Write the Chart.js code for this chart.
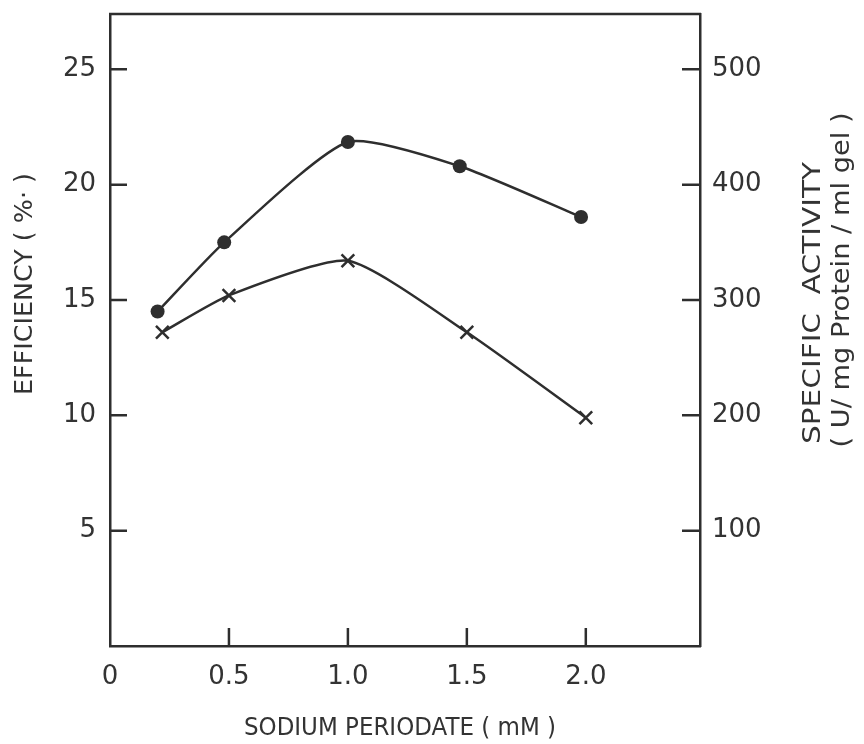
<!DOCTYPE html>
<html>
<head>
<meta charset="utf-8">
<script src="https://cdn.jsdelivr.net/npm/chart.js@4.4.0/dist/chart.umd.min.js"></script>
<style>
  html, body { margin: 0; padding: 0; background: #fff; }
  canvas { display: block; }
</style>
</head>
<body>
<canvas id="myChart" width="864" height="744"></canvas>
<script>
// sodium periodate (mM) for each series
var periodateDots = [0.2, 0.48, 1.0, 1.47, 1.98];
var periodateCrosses = [0.22, 0.5, 1.0, 1.5, 2.0];

// specific activity (U / mg protein / ml gel), filled circles, right axis
var specificActivity = [290, 350, 437, 416, 372];
// efficiency (%), crosses, left axis
var efficiency = [13.6, 15.2, 16.7, 13.6, 9.9];

var xTicks = [0, 0.5, 1.0, 1.5, 2.0];
var xTickLabels = ["0", "0.5", "1.0", "1.5", "2.0"];
var effTicks = [5, 10, 15, 20, 25];
var actTicks = [100, 200, 300, 400, 500];

var ink = "#2e2e2e";
var textInk = "#333";
var fontFamily = "'DejaVu Sans', sans-serif";

function toPoints(xs, ys) {
  return xs.map(function (x, i) { return { x: x, y: ys[i] }; });
}

function setTicks(values) {
  return function (scale) {
    scale.ticks = values.map(function (v) { return { value: v }; });
  };
}

// fixed axis box sizes, no extra room for half labels
function fixSize(w, h) {
  return function (s) {
    if (w) s.width = w;
    if (h) s.height = h;
    s.paddingTop = 0;
    s.paddingBottom = 0;
    s.paddingLeft = 0;
    s.paddingRight = 0;
  };
}

// text squeezed to a given length, optionally turned to read bottom-up
function drawTitle(ctx, text, cx, cy, len, upright) {
  ctx.save();
  ctx.translate(cx, cy);
  if (!upright) ctx.rotate(-Math.PI / 2);
  var w = ctx.measureText(text).width;
  ctx.scale(len / w, 1);
  ctx.fillText(text, 0, 0);
  ctx.restore();
}

// box top, inward tick marks and axis titles
var frame = {
  id: "frame",
  afterDatasetsDraw: function (chart) {
    var ctx = chart.ctx;
    var a = chart.chartArea;
    var sx = chart.scales.x;
    var sl = chart.scales.yEff;
    var sr = chart.scales.yAct;
    ctx.save();
    ctx.strokeStyle = ink;
    ctx.lineWidth = 2.5;
    ctx.beginPath();
    ctx.moveTo(a.left - 1, a.top);
    ctx.lineTo(a.right + 1, a.top);
    xTicks.forEach(function (v) {
      if (v === 0) return;
      var px = sx.getPixelForValue(v);
      ctx.moveTo(px, a.bottom);
      ctx.lineTo(px, a.bottom - 18);
    });
    effTicks.forEach(function (v) {
      var py = sl.getPixelForValue(v);
      ctx.moveTo(a.left, py);
      ctx.lineTo(a.left + 17, py);
    });
    actTicks.forEach(function (v) {
      var py = sr.getPixelForValue(v);
      ctx.moveTo(a.right, py);
      ctx.lineTo(a.right - 18, py);
    });
    ctx.stroke();
    ctx.restore();
  },
  afterDraw: function (chart) {
    var ctx = chart.ctx;
    ctx.save();
    ctx.fillStyle = textInk;
    ctx.textAlign = "center";
    ctx.textBaseline = "middle";
    ctx.font = "25px " + fontFamily;
    drawTitle(ctx, "SODIUM PERIODATE ( mM )", 400, 728, 312, true);
    drawTitle(ctx, "EFFICIENCY ( %· )", 25, 284, 222, false);
    drawTitle(ctx, "SPECIFIC  ACTIVITY", 813, 303, 282, false);
    drawTitle(ctx, "( U/ mg Protein / ml gel )", 842, 280, 335, false);
    ctx.restore();
  }
};

var ctx = document.getElementById("myChart").getContext("2d");
var chart = new Chart(ctx, {
  type: "line",
  data: {
    datasets: [
      {
        label: "Specific activity",
        data: toPoints(periodateDots, specificActivity),
        yAxisID: "yAct",
        borderColor: ink,
        backgroundColor: ink,
        borderWidth: 2.5,
        tension: 0.2,
        pointStyle: "circle",
        pointRadius: 7,
        pointBorderWidth: 0
      },
      {
        label: "Efficiency",
        data: toPoints(periodateCrosses, efficiency),
        yAxisID: "yEff",
        borderColor: ink,
        backgroundColor: ink,
        borderWidth: 2.5,
        tension: 0.2,
        pointStyle: "crossRot",
        pointRadius: 9,
        pointBorderWidth: 2.5
      }
    ]
  },
  options: {
    responsive: false,
    animation: false,
    layout: { padding: { top: 14, left: 0, right: 0, bottom: 0 } },
    plugins: { legend: { display: false }, tooltip: { enabled: false } },
    scales: {
      x: {
        type: "linear",
        min: 0,
        max: 2.48,
        afterBuildTicks: setTicks(xTicks),
        afterFit: fixSize(0, 98),
        grid: { display: false, drawTicks: false },
        border: { display: true, color: ink, width: 2.5 },
        ticks: {
          padding: 16,
          color: textInk,
          font: { family: fontFamily, size: 26 },
          callback: function (v, i) { return xTickLabels[i]; }
        }
      },
      yEff: {
        type: "linear",
        position: "left",
        min: 0,
        max: 27.4,
        afterBuildTicks: setTicks(effTicks),
        afterFit: fixSize(110, 0),
        grid: { display: false, drawTicks: false },
        border: { display: true, color: ink, width: 2.5 },
        ticks: {
          padding: 14,
          color: textInk,
          font: { family: fontFamily, size: 26 }
        }
      },
      yAct: {
        type: "linear",
        position: "right",
        min: 0,
        max: 548,
        afterBuildTicks: setTicks(actTicks),
        afterFit: fixSize(164, 0),
        grid: { display: false, drawTicks: false },
        border: { display: true, color: ink, width: 2.5 },
        ticks: {
          padding: 12,
          color: textInk,
          font: { family: fontFamily, size: 26 }
        }
      }
    }
  },
  plugins: [frame]
});
</script>
</body>
</html>
